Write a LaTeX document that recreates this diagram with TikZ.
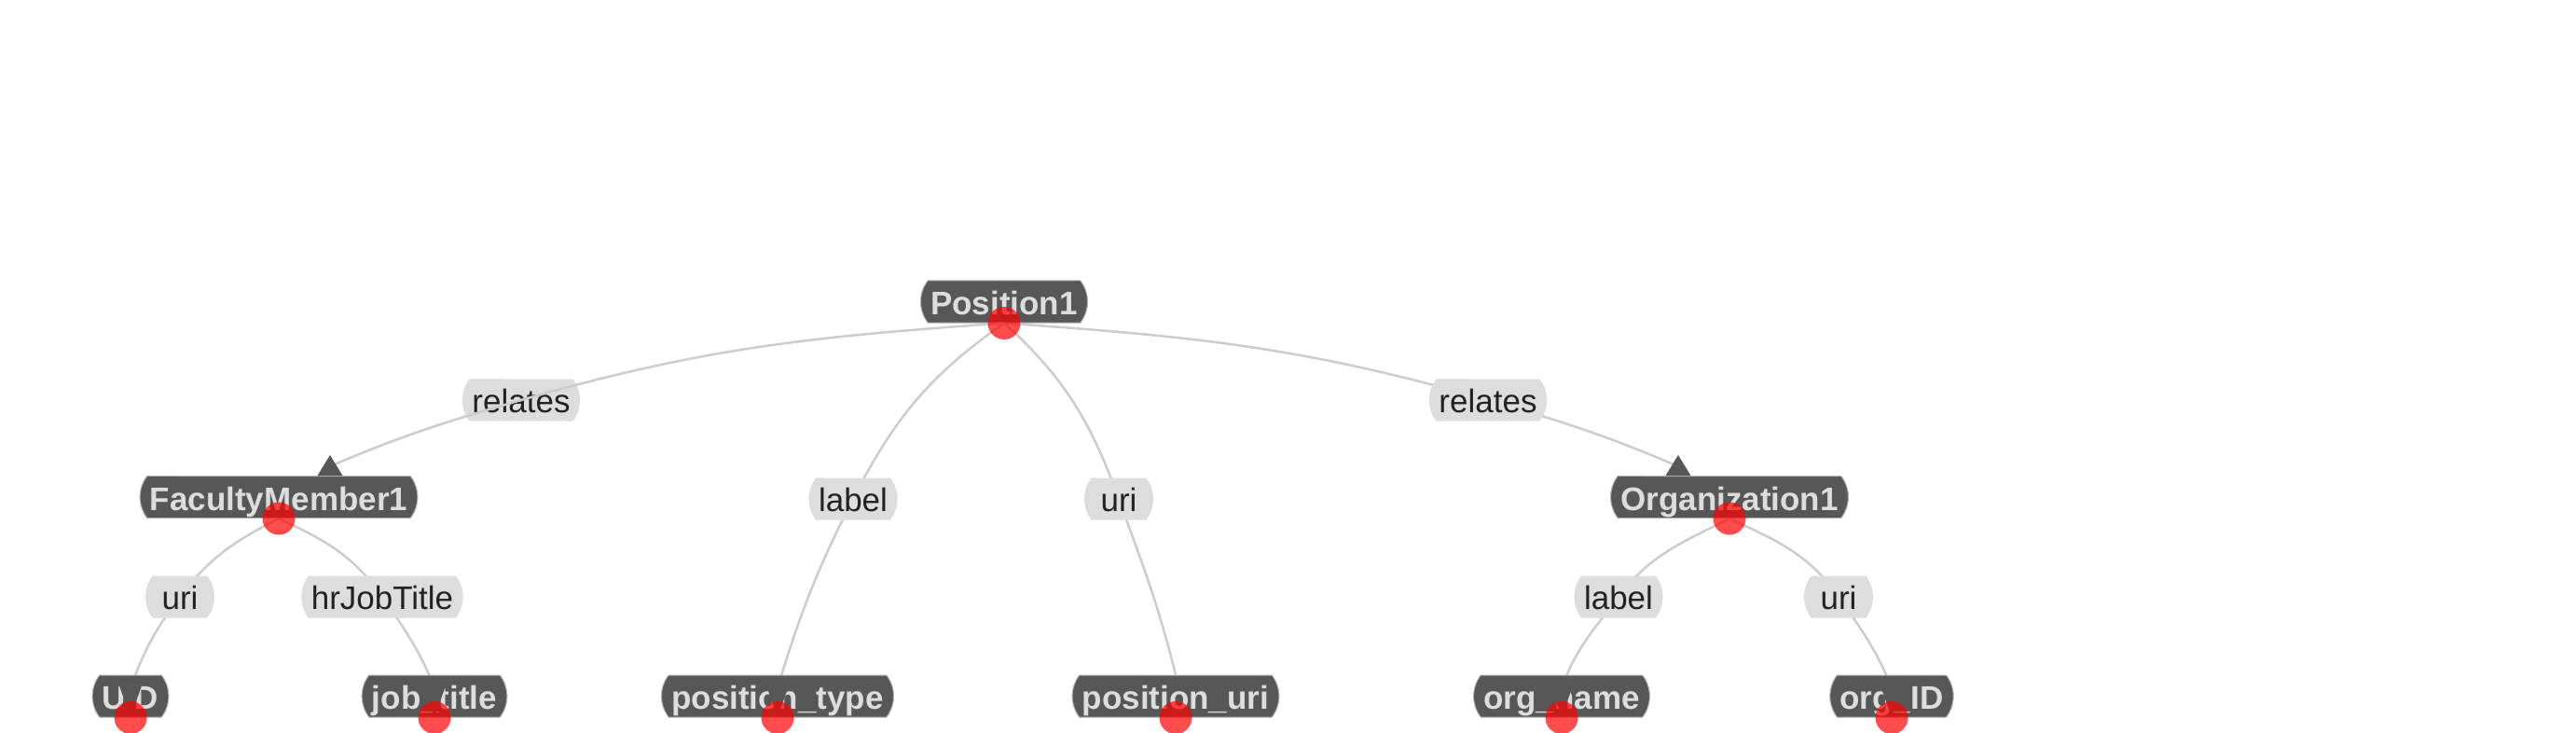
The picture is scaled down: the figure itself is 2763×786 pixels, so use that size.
\documentclass[tikz,border=0pt]{standalone}
\usepackage{fontspec}
\setmainfont{Liberation Sans}
\usetikzlibrary{positioning,shapes.misc,backgrounds}
\definecolor{boxgray}{HTML}{575757}
\definecolor{boxtext}{HTML}{DDDDDD}
\definecolor{lblgray}{HTML}{DDDDDD}
\definecolor{lbltext}{HTML}{222222}
\definecolor{edgegray}{HTML}{CCCCCC}

\begin{document}
\begin{tikzpicture}[x=1pt, y=1pt]
		\tikzstyle{entity} = [rounded rectangle, rounded rectangle arc length=75, fill=boxgray, draw=black!30, line width=1pt, text=boxtext, font=\fontsize{35}{40}\selectfont\bfseries, inner xsep=8pt, inner ysep=0pt, text height=28pt, text depth=0pt, minimum height=45pt];
		\tikzstyle{property} = [rounded rectangle, rounded rectangle arc length=75, fill=lblgray, text=lbltext, font=\fontsize{35}{40}\selectfont, inner xsep=8pt, inner ysep=0pt, text height=27pt, text depth=0pt, minimum height=45pt];
		\tikzstyle{anchordot} = [circle, fill=red, fill opacity=0.7, minimum size=35pt, inner sep=0pt];
		\tikzstyle{link} = [draw=edgegray, line width=2.5pt];
		\tikzstyle{tipfill} = [fill=boxgray];
		\useasboundingbox (0,0) rectangle (2763,-786);
		% entities
		\node (p1) at (1077,-323.5) [entity] {Position1};
		\node (fm1) at (299,-533) [entity] {FacultyMember1};
		\node (org1) at (1855,-533) [entity] {Organization1};
		\node (uid) at (140,-746.5) [entity] {UID};
		\node (jobt) at (466,-746.5) [entity] {job\_title};
		\node (ptype) at (834,-746.5) [entity] {position\_type};
		\node (puri) at (1261,-746.5) [entity] {position\_uri};
		\node (oname) at (1675,-746.5) [entity] {org\_name};
		\node (oid) at (2029,-746.5) [entity] {org\_ID};
		% properties
		\node (rel1) at (559,-429) [property] {relates};
		\node (rel2) at (1596,-429) [property] {relates};
		\node (lbl1) at (915,-535) [property] {label};
		\node (uri1) at (1200,-535) [property] {uri};
		\node (uri2) at (193,-640) [property] {uri};
		\node (hrjt) at (410,-640) [property] {hrJobTitle};
		\node (lbl2) at (1736,-640) [property] {label};
		\node (uri3) at (1972,-640) [property] {uri};
		% this one runs over its label
		\coordinate (fm1-in) at ([shift={(55,10)}]fm1.north);
		\path [link] (p1.south) to[out=184, in=16] (rel1.center) to[out=196, in=23] (fm1-in);
		% arrow tips
		\fill[tipfill] ([shift={(55,22)}]fm1.north) -- ([shift={(68.5,0)}]fm1.north) -- ([shift={(41.5,0)}]fm1.north) -- cycle;
		\fill[tipfill] ([shift={(-55,22)}]org1.north) -- ([shift={(-41.5,0)}]org1.north) -- ([shift={(-68.5,0)}]org1.north) -- cycle;
		\foreach \n in {uid,jobt,ptype,oname,oid}
			\fill[tipfill] ([shift={(-12,34)}]\n.south) -- ([shift={(12,34)}]\n.south) -- ([shift={(0,1)}]\n.south) -- cycle;
		\coordinate (org1-in) at ([shift={(-55,10)}]org1.north);
		\coordinate (uid-in) at ([yshift=32]uid.south);
		\coordinate (jobt-in) at ([yshift=32]jobt.south);
		\coordinate (ptype-in) at ([yshift=32]ptype.south);
		\coordinate (oname-in) at ([yshift=32]oname.south);
		\coordinate (oid-in) at ([yshift=32]oid.south);
		% dots
		\node (p1-dot) at (p1.south) [anchordot] {};
		\node (fm1-dot) at (fm1.south) [anchordot] {};
		\node (org1-dot) at (org1.south) [anchordot] {};
		\foreach \n in {uid,jobt,ptype,puri,oname,oid}
			\node at (\n.south) [anchordot] {};
		% links
		\begin{scope}[on background layer]
			\path [link] (p1-dot.center) to[out=-4, in=164] (rel2.center) to[out=-16, in=157] (org1-in);
			\path [link] (p1-dot.center) to[out=215, in=63] (lbl1.center) to[out=243, in=73] (ptype-in);
			\path [link] (p1-dot.center) to[out=-42, in=110] (uri1.center) to[out=-70, in=104] (puri.north);
			\path [link] (fm1-dot.center) to[out=207, in=53] (uri2.center) to[out=233, in=70] (uid-in);
			\path [link] (fm1-dot.center) to[out=-25, in=125] (hrjt.center) to[out=-55, in=112] (jobt-in);
			\path [link] (org1-dot.center) to[out=207, in=53] (lbl2.center) to[out=233, in=70] (oname-in);
			\path [link] (org1-dot.center) to[out=-25, in=125] (uri3.center) to[out=-55, in=112] (oid-in);
		\end{scope}
	\end{tikzpicture}
\end{document}
